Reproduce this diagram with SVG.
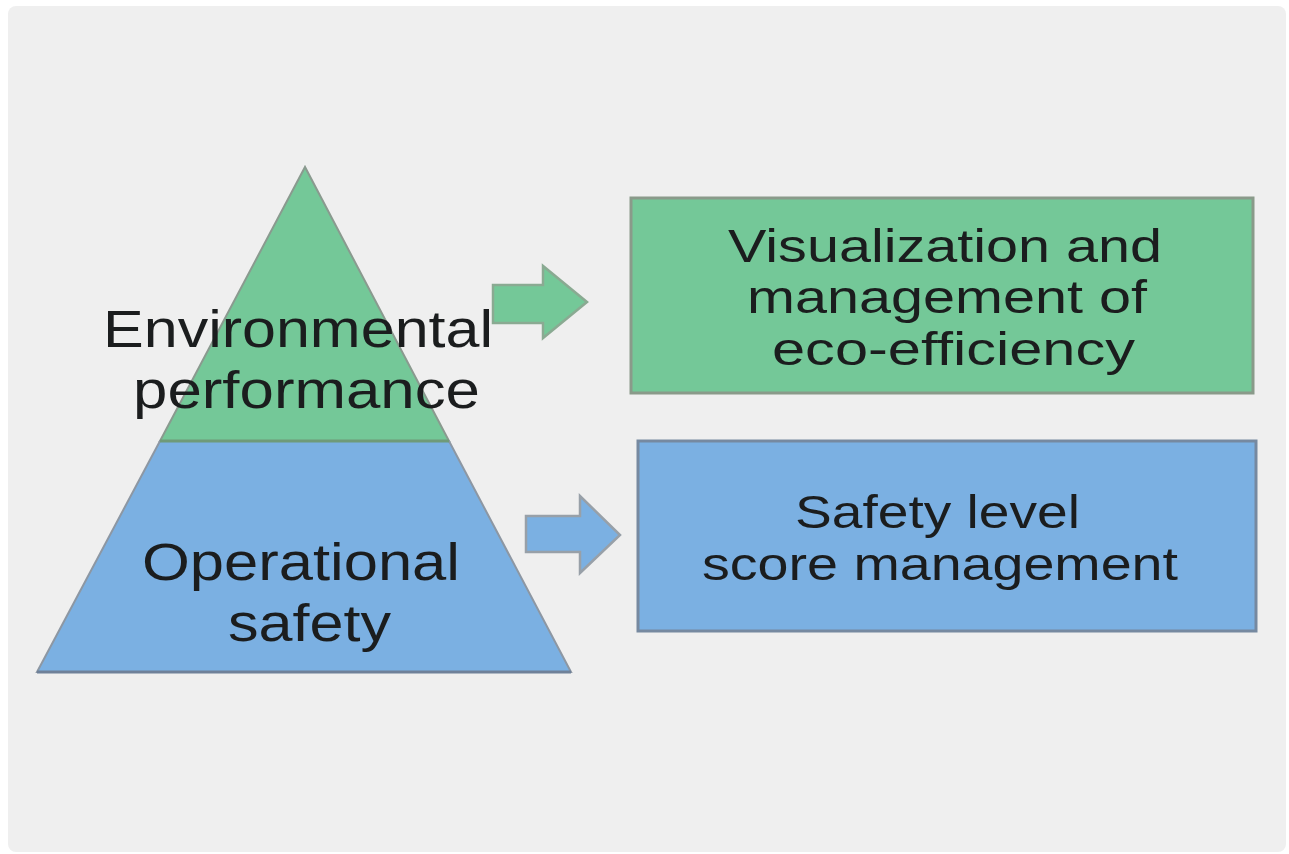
<svg xmlns="http://www.w3.org/2000/svg" width="1289" height="854" viewBox="0 0 1289 854">
  <style>
    .lbl { font-family: "Liberation Sans", Arial, sans-serif; font-size: 51px; fill: #1b1d1e; }
    .box { font-size: 47px; }
    .green { fill: #74c898; }
    .blue { fill: #7bb0e2; }
  </style>
  <rect x="0" y="0" width="1289" height="854" fill="#ffffff"/>
  <rect x="8" y="6" width="1278" height="846" rx="8" fill="#efefef"/>

  <g id="pyramid">
    <polygon class="green" points="305,167 160,441 449,441" stroke="#8a9a8f" stroke-width="2"/>
    <polygon class="blue" points="160,441 449,441 571,672 37,672" stroke="#8d97a3" stroke-width="2"/>
    <line x1="160" y1="441" x2="449" y2="441" stroke="#6f9a78" stroke-width="3"/>
    <line x1="37" y1="672" x2="571" y2="672" stroke="#6f8199" stroke-width="3"/>
  </g>

  <g id="pyramid-top-label">
    <text class="lbl" x="103" y="347" textLength="390" lengthAdjust="spacingAndGlyphs">Environmental</text>
    <text class="lbl" x="133" y="408" textLength="347" lengthAdjust="spacingAndGlyphs">performance</text>
  </g>
  <g id="pyramid-bottom-label">
    <text class="lbl" x="142" y="580" textLength="318" lengthAdjust="spacingAndGlyphs">Operational</text>
    <text class="lbl" x="228" y="641" textLength="163" lengthAdjust="spacingAndGlyphs">safety</text>
  </g>

  <g id="connectors">
    <polygon class="green" points="493,285 543,285 543,266 587,302 543,338 543,323 493,323" stroke="#8aaa92" stroke-width="2.5" stroke-linejoin="miter"/>
    <polygon class="blue" points="526,516 580,516 580,496 620,535 580,573 580,552 526,552" stroke="#98a0a8" stroke-width="2.5" stroke-linejoin="miter"/>
  </g>

  <g id="box-eco">
    <rect class="green" x="631" y="198" width="622" height="195" stroke="#8a9a8a" stroke-width="3"/>
    <text class="lbl box" x="728" y="262" textLength="434" lengthAdjust="spacingAndGlyphs">Visualization and</text>
    <text class="lbl box" x="747" y="313" textLength="400" lengthAdjust="spacingAndGlyphs">management of</text>
    <text class="lbl box" x="772" y="365" textLength="363" lengthAdjust="spacingAndGlyphs">eco-efficiency</text>
  </g>

  <g id="box-safety">
    <rect class="blue" x="638" y="441" width="618" height="190" stroke="#7689a0" stroke-width="3"/>
    <text class="lbl box" x="795" y="528" textLength="285" lengthAdjust="spacingAndGlyphs">Safety level</text>
    <text class="lbl box" x="702" y="580" textLength="476" lengthAdjust="spacingAndGlyphs">score management</text>
  </g>
</svg>
